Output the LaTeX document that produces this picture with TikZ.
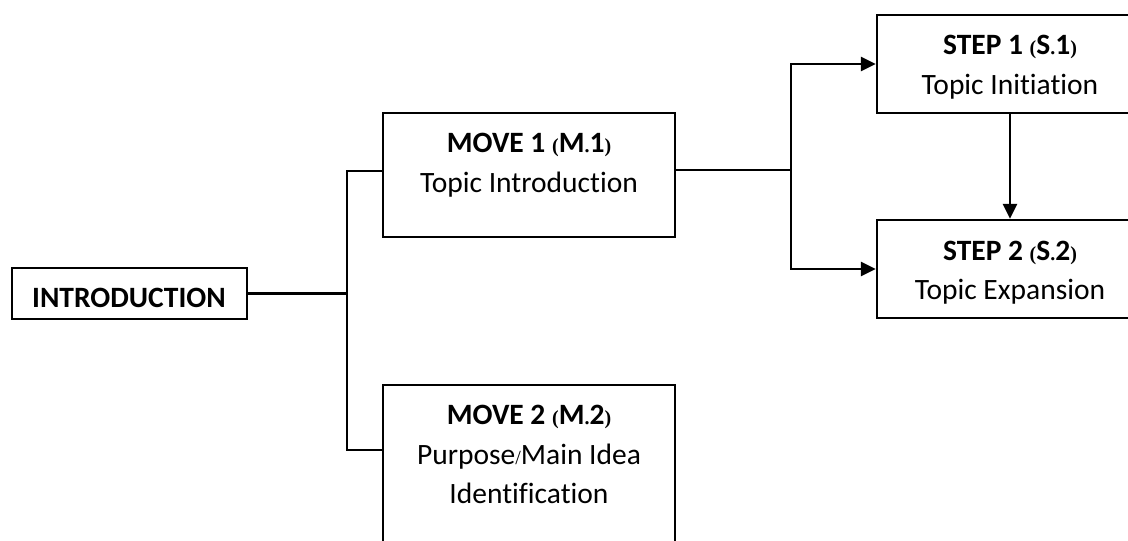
\documentclass[tikz,border=0pt]{standalone}
\usepackage{fontspec}
\setmainfont{Carlito}[Ligatures=NoCommon]
\newfontfamily\serfont{Liberation Serif}
\usetikzlibrary{arrows.meta}
\newcommand{\pr}[1]{{\serfont\fontsize{20}{24}\selectfont #1}}
\tikzset{
  box/.style={draw=black, line width=2.4pt, rectangle, inner sep=0pt},
  conn/.style={draw=black, line width=2.8pt},
  arr/.style={conn, -{Triangle[length=15pt,width=14pt]}},
  txt/.style={anchor=base, inner sep=0pt, font=\fontsize{29.5}{35}\selectfont},
  ttl/.style={txt, font=\fontsize{29.5}{35}\selectfont\bfseries}
}
\begin{document}
\begin{tikzpicture}[x=1pt,y=-1pt]
\path[use as bounding box, clip] (0,0) rectangle (1128,541);
\fill[white] (0,0) rectangle (1128,541);
% boxes
\node[box, minimum width=235pt, minimum height=51pt] (intro) at (129.5,293.5) {};
\node[box, minimum width=292pt, minimum height=124pt] (move1) at (529,175) {};
\node[box, minimum width=292pt, minimum height=175pt] (move2) at (529,472.5) {};
\node[box, minimum width=266pt, minimum height=98pt] (step1) at (1010,64) {};
\node[box, minimum width=266pt, minimum height=98pt] (step2) at (1010,269) {};
% texts
\node[ttl] (introT) at (129,307) {INTRODUCTION};
\node[ttl] (m1a) at (529,152) {MOVE 1 \pr{(}M\pr{.}1\pr{)}};
\node[txt] (m1b) at (529,192) {Topic Introduction};
\node[ttl] (m2a) at (529,424) {MOVE 2 \pr{(}M\pr{.}2\pr{)}};
\node[txt] (m2b) at (529,464) {Purpose\pr{/}Main Idea};
\node[txt] (m2c) at (529,503) {Identification};
\node[ttl] (s1a) at (1010,54) {STEP 1 \pr{(}S\pr{.}1\pr{)}};
\node[txt] (s1b) at (1010,94) {Topic Initiation};
\node[ttl] (s2a) at (1010,260) {STEP 2 \pr{(}S\pr{.}2\pr{)}};
\node[txt] (s2b) at (1010,299) {Topic Expansion};
% connectors
\coordinate (t1) at (347,171);
\coordinate (t2) at (347,450);
\coordinate (b) at (791,170);
\draw[conn] (intro.east) -- (intro.east -| t1);
\draw[conn] (move1.west |- t1) -- (t1) -- (t2) -- (move2.west |- t2);
\draw[conn] (move1.east |- b) -- (b);
\draw[arr] (b) |- (step1.west);
\draw[arr] (b) |- (step2.west);
\draw[arr] (step1.south) -- (step2.north);
\end{tikzpicture}
\end{document}
